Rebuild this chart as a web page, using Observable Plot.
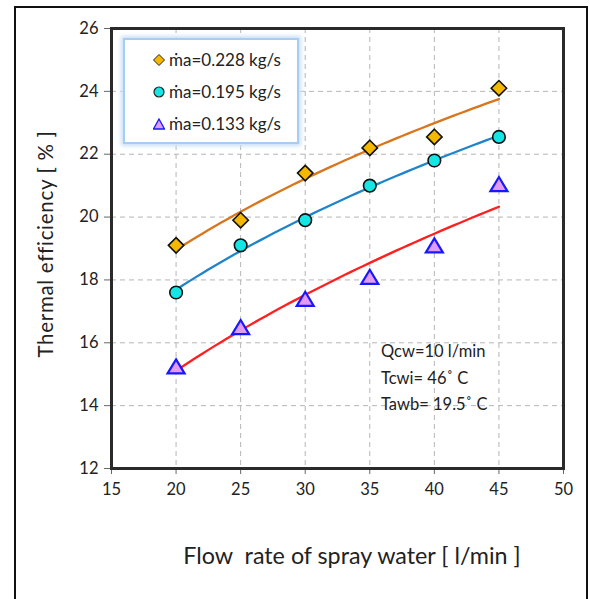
<!DOCTYPE html>
<html>
<head>
<meta charset="utf-8">
<script src="https://cdn.jsdelivr.net/npm/d3@7"></script>
<script src="https://cdn.jsdelivr.net/npm/@observablehq/plot@0.6"></script>
<style>
  html, body { margin: 0; padding: 0; background: #fff; }
  #wrap { position: relative; width: 590px; height: 599px; overflow: hidden; font-family: Lato, "Open Sans", sans-serif; color: #222; }
  #outer { position: absolute; left: 14px; top: 6px; width: 574px; height: 620px; border: 2.5px solid #111; box-sizing: border-box; }
  #legend { position: absolute; left: 123px; top: 38px; width: 176px; height: 106px; background: #fff;
            border: 2px solid #a9cdf2; box-shadow: 0 0 4px 2px #c9e0f8; box-sizing: border-box; }
  .lg { position: absolute; left: 0; display: flex; align-items: center; font-size: 17px; white-space: nowrap; }
  .lg svg { margin-right: 4px; }
  .note { position: absolute; left: 381px; font-size: 16.5px; white-space: nowrap; color: #222; }
  #ylab { position: absolute; left: 45px; top: 244px; transform: translate(-50%, -50%) rotate(-90deg); font-size: 20.5px; white-space: nowrap; letter-spacing: 0.7px; }
  #xlab { position: absolute; left: 352px; top: 555px; transform: translate(-50%, -50%); font-size: 23.3px; white-space: pre; }
</style>
</head>
<body>
<div id="wrap">
  <div id="chart"></div>
  <div id="outer"></div>
  <div id="legend"></div>
  <div id="ylab">Thermal efficiency [ % ]</div>
  <div id="xlab">Flow  rate of spray water [ l/min ]</div>
  <div class="note" style="top:341px">Qcw=10 l/min</div>
  <div class="note" style="top:368px">Tcwi= 46˚ C</div>
  <div class="note" style="top:394px">Tawb= 19.5˚ C</div>
</div>
<script>
// ---- data ----
const flowRate = [20, 25, 30, 35, 40, 45];
const eff0228 = [19.1, 19.9, 21.4, 22.2, 22.55, 24.1];
const eff0195 = [17.6, 19.1, 19.9, 21.0, 21.8, 22.55];
const eff0133 = [15.25, 16.5, 17.4, 18.1, 19.1, 21.05];
const seriesNames = ["ṁa=0.228 kg/s", "ṁa=0.195 kg/s", "ṁa=0.133 kg/s"];
const xTicks = [15, 20, 25, 30, 35, 40, 45, 50];
const yTicks = [12, 14, 16, 18, 20, 22, 24, 26];

// ---- styles ----
const lineColors = ["#d9761c", "#1f84c9", "#ff1f1f"];
const fillColors = ["#f5b800", "#14e6e6", "#e29af3"];
const strokeColors = ["#111", "#111", "#1818ff"];

// custom symbols
const diamondSym = { draw(ctx, size) { const r = Math.sqrt(size / Math.PI); const s = r * 1.1;
  ctx.moveTo(0, -s); ctx.lineTo(s, 0); ctx.lineTo(0, s); ctx.lineTo(-s, 0); ctx.closePath(); } };
const triSym = { draw(ctx, size) { const r = Math.sqrt(size / Math.PI); const w = r * 1.15, h = r * 0.95;
  ctx.moveTo(0, -h); ctx.lineTo(w, h); ctx.lineTo(-w, h); ctx.closePath(); } };
const symbols = [diamondSym, "circle", triSym];
const radii = [7, 6.3, 7.4];
const seriesVals = [eff0228, eff0195, eff0133];

// power trendline (Excel-style y = a x^b) from the data
function powerFit(xs, ys) {
  const lx = xs.map(Math.log), ly = ys.map(Math.log);
  const mx = d3.mean(lx), my = d3.mean(ly);
  const b = d3.sum(lx, (v, i) => (v - mx) * (ly[i] - my)) / d3.sum(lx, v => (v - mx) ** 2);
  const a = Math.exp(my - b * mx);
  const pts = [];
  for (let x = xs[0]; x <= xs[xs.length - 1] + 1e-9; x += 0.5) pts.push({ x, y: a * Math.pow(x, b) });
  return pts;
}

const marks = [
  Plot.ruleX(xTicks.slice(1, -1), { stroke: "#b5b5b5", strokeWidth: 1, strokeDasharray: "5,4" }),
  Plot.ruleY(yTicks.slice(1, -1), { stroke: "#b5b5b5", strokeWidth: 1, strokeDasharray: "5,4" }),
  Plot.axisX({ ticks: xTicks, tickSize: 6, tickPadding: 9, fontSize: 16.5, stroke: "#666" }),
  Plot.axisY({ ticks: yTicks, tickSize: 7, tickPadding: 6, fontSize: 16.5, stroke: "#666" }),
];
seriesVals.forEach((vals, i) => {
  marks.push(Plot.line(powerFit(flowRate, vals), { x: "x", y: "y", stroke: lineColors[i], strokeWidth: 2.3, curve: "linear" }));
});
seriesVals.forEach((vals, i) => {
  const rows = flowRate.map((x, j) => ({ x, y: vals[j] }));
  marks.push(Plot.dot(rows, { x: "x", y: "y", symbol: symbols[i], r: radii[i], fill: fillColors[i], stroke: strokeColors[i], strokeWidth: i === 2 ? 2.2 : 1.6 }));
});
marks.push(Plot.frame({ stroke: "#2a2a2a", strokeWidth: 3 }));

const chart = Plot.plot({
  width: 590, height: 599,
  marginLeft: 111, marginRight: 27, marginTop: 28, marginBottom: 131,
  x: { domain: [15, 50], label: null },
  y: { domain: [12, 26], label: null },
  style: { fontFamily: "Lato, 'Open Sans', sans-serif", fontSize: "16px", color: "#222", background: "transparent" },
  marks
});
document.getElementById("chart").appendChild(chart);

// legend
const legend = document.getElementById("legend");
const legendSyms = [
  `<polygon points="6,0.5 11.5,6 6,11.5 0.5,6" fill="${fillColors[0]}" stroke="#222" stroke-width="1"/>`,
  `<circle cx="6" cy="6" r="5" fill="${fillColors[1]}" stroke="#222" stroke-width="1.2"/>`,
  `<polygon points="6,1 11.5,11 0.5,11" fill="${fillColors[2]}" stroke="${strokeColors[2]}" stroke-width="1.3"/>`
];
seriesNames.forEach((name, i) => {
  const d = document.createElement("div");
  d.className = "lg";
  d.style.left = "28px";
  d.style.top = (9 + i * 32) + "px";
  d.innerHTML = `<svg width="12" height="12" viewBox="0 0 12 12">${legendSyms[i]}</svg><span>${name}</span>`;
  legend.appendChild(d);
});
</script>
</body>
</html>
